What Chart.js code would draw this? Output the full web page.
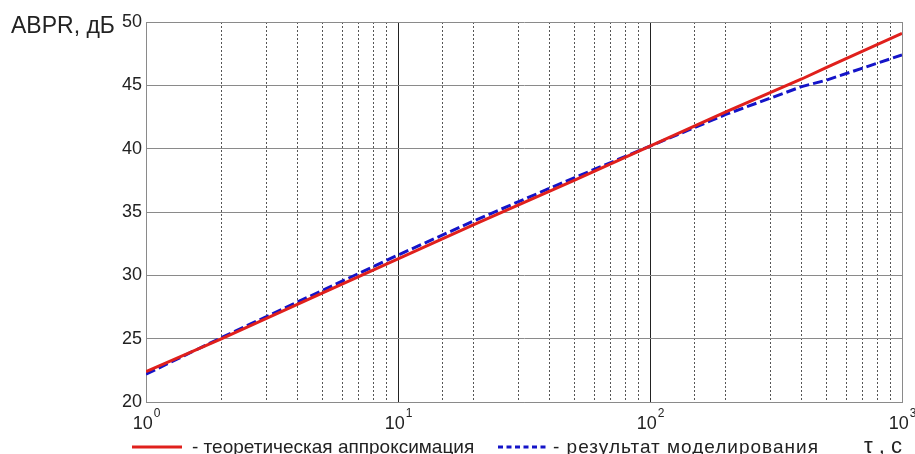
<!DOCTYPE html>
<html>
<head>
<meta charset="utf-8">
<script src="https://cdn.jsdelivr.net/npm/chart.js@4.4.1/dist/chart.umd.min.js"></script>
<style>
  html, body { margin: 0; padding: 0; background: #fff; }
  #wrap { width: 915px; height: 454px; position: relative; }
</style>
</head>
<body>
<div id="wrap"><canvas id="abprChart" width="915" height="454"></canvas></div>
<script>
// tau, c
var tau = [1, 2, 5, 10, 20, 50, 100, 200, 400, 500, 1000];
// теоретическая аппроксимация, дБ
var theory = [22.4, 25.0, 28.6, 31.3, 34.0, 37.5, 40.2, 42.9, 45.5, 46.4, 49.1];
// результат моделирования, дБ
var modeling = [22.2, 25.1, 28.8, 31.6, 34.3, 37.7, 40.2, 42.7, 44.9, 45.4, 47.4];

var xTickValues = [1, 10, 100, 1000];
var xTickExp = ['0', '1', '2', '3'];

var legendTexts = ['- теоретическая аппроксимация', '- результат моделирования'];
var yTitle = 'ABPR, дБ';
var xTitle = 'τ , с';

var FONT = '"Liberation Sans", Arial, sans-serif';

function toPoints(xs, ys) {
    return xs.map(function (x, i) { return { x: x, y: ys[i] }; });
}

function isDecade(v) {
    var l = Math.log10(v);
    return Math.abs(l - Math.round(l)) < 1e-9;
}

// подписи осей, степени десяти и легенда
var textPlugin = {
    id: 'abprTexts',
    afterDraw: function (chart) {
        var ctx = chart.ctx;
        var xs = chart.scales.x;
        var area = chart.chartArea;
        ctx.save();
        ctx.fillStyle = '#222';
        ctx.textBaseline = 'alphabetic';

        ctx.font = '23px ' + FONT;
        ctx.textAlign = 'left';
        ctx.fillText(yTitle, 11, 33);

        xTickValues.forEach(function (v, i) {
            var px = xs.getPixelForValue(v);
            ctx.font = '18px ' + FONT;
            var w1 = ctx.measureText('10').width;
            ctx.font = '12px ' + FONT;
            var w2 = ctx.measureText(xTickExp[i]).width;
            var start = px - (w1 + w2) / 2;
            ctx.font = '18px ' + FONT;
            ctx.fillText('10', start, area.bottom + 27);
            ctx.font = '12px ' + FONT;
            ctx.fillText(xTickExp[i], start + w1 + 1, area.bottom + 15);
        });

        // легенда
        var ly = 447;
        ctx.lineWidth = 3;
        ctx.strokeStyle = '#e0201c';
        ctx.beginPath();
        ctx.moveTo(132, ly);
        ctx.lineTo(182, ly);
        ctx.stroke();

        ctx.strokeStyle = '#1414c8';
        ctx.setLineDash([5, 3.5]);
        ctx.beginPath();
        ctx.moveTo(498, ly);
        ctx.lineTo(548, ly);
        ctx.stroke();
        ctx.setLineDash([]);

        ctx.font = '19px ' + FONT;
        ctx.fillText(legendTexts[0], 192, 453);
        ctx.letterSpacing = '1px';
        ctx.fillText(legendTexts[1], 553, 453);
        ctx.letterSpacing = '0px';
        ctx.font = '22px ' + FONT;
        ctx.fillText(xTitle, 864, 453);
        ctx.restore();
    }
};

var ctx = document.getElementById('abprChart').getContext('2d');
var abprChart = new Chart(ctx, {
    type: 'line',
    plugins: [textPlugin],
    data: {
        datasets: [{
            label: legendTexts[0],
            data: toPoints(tau, theory),
            borderColor: '#e0201c',
            borderWidth: 3,
            pointRadius: 0,
            tension: 0
        },
        {
            label: legendTexts[1],
            data: toPoints(tau, modeling),
            borderColor: '#1414c8',
            borderWidth: 3,
            borderDash: [10, 4],
            pointRadius: 0,
            tension: 0
        }]
    },
    options: {
        responsive: false,
        animation: false,
        layout: { padding: { left: 0, right: 13, top: 22, bottom: 0 } },
        plugins: {
            legend: { display: false },
            tooltip: { enabled: false }
        },
        scales: {
            x: {
                type: 'logarithmic',
                min: 1,
                max: 1000,
                afterFit: function (scale) { scale.height = 52; },
                ticks: {
                    autoSkip: false,
                    maxRotation: 0,
                    callback: function () { return ''; }
                },
                grid: {
                    drawTicks: false,
                    lineWidth: 1,
                    color: function (c) {
                        if (!c.tick) return '#8a8a8a';
                        var v = c.tick.value;
                        if (v === 1 || v === 1000) return '#8a8a8a';
                        return isDecade(v) ? '#222' : '#555';
                    }
                },
                border: {
                    color: '#8a8a8a',
                    dash: function (c) {
                        if (!c.tick) return [];
                        return isDecade(c.tick.value) ? [] : [2, 2];
                    }
                }
            },
            y: {
                min: 20,
                max: 50,
                afterFit: function (scale) { scale.width = 146; },
                ticks: {
                    stepSize: 5,
                    padding: 4,
                    color: '#222',
                    font: { family: FONT, size: 18 }
                },
                grid: {
                    drawTicks: false,
                    color: '#8a8a8a',
                    lineWidth: 1
                },
                border: { color: '#8a8a8a' }
            }
        }
    }
});
</script>
</body>
</html>
